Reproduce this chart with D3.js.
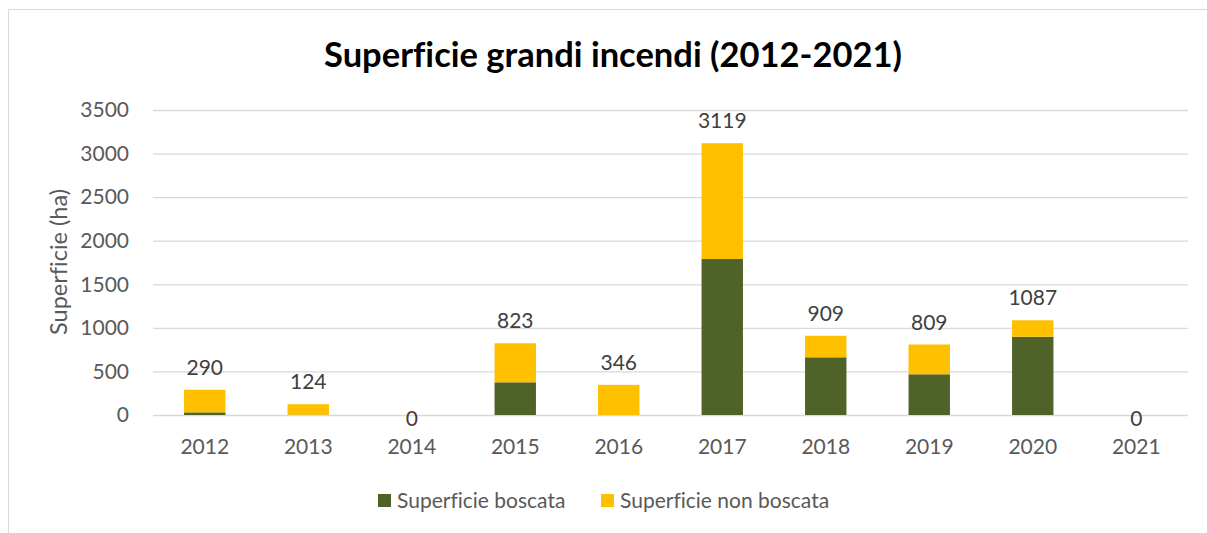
<!DOCTYPE html>
<html>
<head>
<meta charset="utf-8">
<script src="https://cdn.jsdelivr.net/npm/d3@7"></script>
<style>
  body { margin: 0; background: #fff; }
  svg { display: block; font-family: Lato, "Open Sans", sans-serif; font-variant-ligatures: none; }
</style>
</head>
<body>
<svg id="chart" width="1207" height="533"></svg>
<script>
const years = ["2012", "2013", "2014", "2015", "2016", "2017", "2018", "2019", "2020", "2021"];
const boscata = [30, 3, 0, 375, 0, 1790, 662, 467, 898, 0];
const nonBoscata = [260, 121, 0, 448, 346, 1329, 247, 342, 189, 0];
const totals = [290, 124, 0, 823, 346, 3119, 909, 809, 1087, 0];
const yTicks = [0, 500, 1000, 1500, 2000, 2500, 3000, 3500];
const seriesNames = ["Superficie boscata", "Superficie non boscata"];
const seriesColors = ["#4f6228", "#ffc000"];

const svg = d3.select("#chart");

// chart frame (right and bottom edges fall outside the picture)
svg.append("rect")
  .attr("x", 8.5).attr("y", 9.5)
  .attr("width", 1300).attr("height", 600)
  .attr("fill", "none")
  .attr("stroke", "#d9d9d9");

const plotLeft = 153, plotRight = 1188, plotTop = 110, plotBottom = 415;

const xScale = d3.scaleBand()
  .domain(years)
  .range([plotLeft, plotRight])
  .paddingInner(0.6)
  .paddingOuter(0.3);

const yScale = d3.scaleLinear()
  .domain([0, 3500])
  .range([plotBottom, plotTop]);

// gridlines
svg.append("g")
  .selectAll("line")
  .data(yTicks)
  .enter()
  .append("line")
  .attr("x1", plotLeft).attr("x2", plotRight)
  .attr("y1", (d) => yScale(d) + 0.5)
  .attr("y2", (d) => yScale(d) + 0.5)
  .attr("stroke", "#d9d9d9")
  .attr("stroke-width", 1.3);

// y axis labels
const yAxis = svg.append("g")
  .attr("transform", `translate(${plotLeft - 24},0)`)
  .call(d3.axisLeft(yScale).tickValues(yTicks).tickFormat(d3.format("d")).tickSize(0).tickPadding(0));
yAxis.select(".domain").remove();
yAxis.selectAll("text")
  .attr("font-size", 21)
  .attr("font-family", "Lato, sans-serif")
  .attr("fill", "#595959");

// x axis labels
const xAxis = svg.append("g")
  .attr("transform", `translate(0,${plotBottom})`)
  .call(d3.axisBottom(xScale).tickSize(0).tickPadding(0));
xAxis.select(".domain").remove();
xAxis.selectAll("text")
  .attr("dy", 0)
  .attr("y", 39)
  .attr("font-size", 21)
  .attr("font-family", "Lato, sans-serif")
  .attr("fill", "#595959");

// stacked bars
const rows = years.map((year, i) => ({ year: year, boscata: boscata[i], nonBoscata: nonBoscata[i] }));
const stack = d3.stack().keys(["boscata", "nonBoscata"])(rows);

svg.append("g")
  .selectAll("g")
  .data(stack)
  .enter()
  .append("g")
  .attr("fill", (series, i) => seriesColors[i])
  .selectAll("rect")
  .data((series) => series)
  .enter()
  .append("rect")
  .attr("x", (d) => xScale(d.data.year))
  .attr("width", xScale.bandwidth())
  .attr("y", (d) => yScale(d[1]))
  .attr("height", (d) => yScale(d[0]) - yScale(d[1]));

// total labels
svg.append("g")
  .selectAll("text")
  .data(years)
  .enter()
  .append("text")
  .text((year, i) => totals[i])
  .attr("x", (year) => xScale(year) + xScale.bandwidth() / 2)
  .attr("y", (year, i) => totals[i] > 0 ? yScale(totals[i]) - 15 : yScale(0) + 11)
  .attr("text-anchor", "middle")
  .attr("font-size", 21)
  .attr("fill", "#404040");

// title
svg.append("text")
  .text("Superficie grandi incendi (2012-2021)")
  .attr("x", 613)
  .attr("y", 67)
  .attr("text-anchor", "middle")
  .attr("font-size", 34.5)
  .attr("font-weight", "bold")
  .attr("fill", "#000");

// y axis title
svg.append("text")
  .text("Superficie (ha)")
  .attr("transform", "translate(67,262) rotate(-90)")
  .attr("text-anchor", "middle")
  .attr("font-size", 23.5)
  .attr("fill", "#595959");

// legend
const legendX = [378, 601];
const legend = svg.append("g")
  .selectAll("g")
  .data(seriesNames)
  .enter()
  .append("g")
  .attr("transform", (name, i) => `translate(${legendX[i]},494)`);
legend.append("rect")
  .attr("width", 13).attr("height", 13)
  .attr("fill", (name, i) => seriesColors[i]);
legend.append("text")
  .text((name) => name)
  .attr("x", 19)
  .attr("y", 13.5)
  .attr("font-size", 21)
  .attr("fill", "#595959");
</script>
</body>
</html>
